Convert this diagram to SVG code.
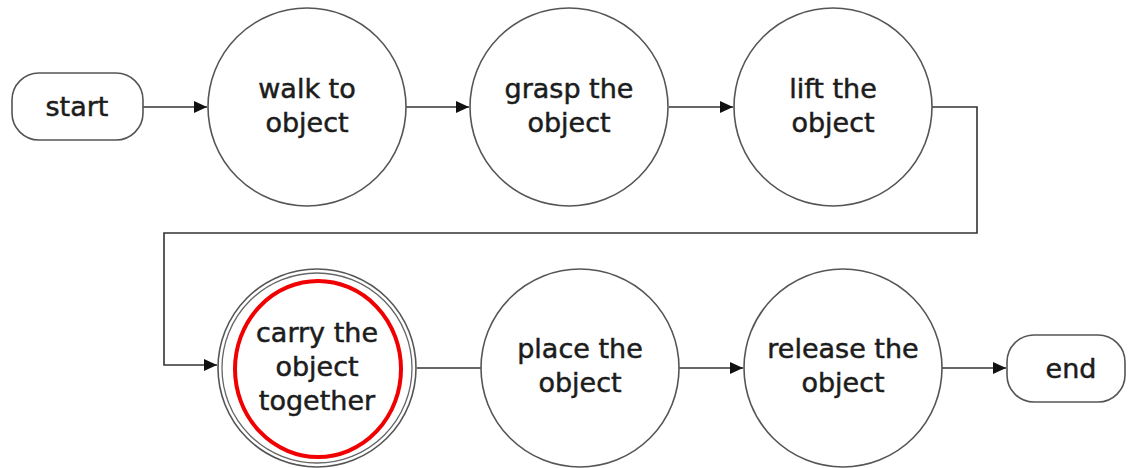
<svg xmlns="http://www.w3.org/2000/svg" width="1128" height="468" viewBox="0 0 1128 468">
  <style>
    .node { fill: #ffffff; stroke: #555555; stroke-width: 1.6; }
    .ring { fill: none; stroke: #666666; stroke-width: 1.3; }
    .label { font-family: "DejaVu Sans", sans-serif; font-size: 27px; fill: #1c1c1c; stroke: #1c1c1c; stroke-width: 0.5; text-anchor: middle; }
    .edge { fill: none; stroke: #333333; stroke-width: 1.6; }
    .mark { fill: none; stroke: #f00000; stroke-width: 4; }
  </style>
  <defs>
    <marker id="arrow" viewBox="0 0 13 12" refX="13" refY="6" markerWidth="13" markerHeight="12" markerUnits="userSpaceOnUse" orient="auto">
      <path d="M0,0 L13,6 L0,12 z" fill="#111111"/>
    </marker>
  </defs>
  <rect width="1128" height="468" fill="#ffffff"/>

  <g id="connectors">
    <line class="edge" x1="143" y1="107" x2="207" y2="107" marker-end="url(#arrow)"/>
    <line class="edge" x1="406" y1="107" x2="469" y2="107" marker-end="url(#arrow)"/>
    <line class="edge" x1="669" y1="107" x2="733" y2="107" marker-end="url(#arrow)"/>
    <polyline class="edge" points="932,107 977,107 977,233 164,233 164,365 217,365" marker-end="url(#arrow)"/>
    <line class="edge" x1="417" y1="368" x2="481" y2="368"/>
    <line class="edge" x1="679" y1="368" x2="743" y2="368" marker-end="url(#arrow)"/>
    <line class="edge" x1="942" y1="368" x2="1006" y2="368" marker-end="url(#arrow)"/>
  </g>

  <g id="start">
    <rect class="node" x="12" y="73" width="131" height="67" rx="27"/>
    <text class="label" x="77" y="116">start</text>
  </g>

  <g id="walk">
    <circle class="node" cx="307" cy="107" r="99"/>
    <text class="label" x="307" y="98">walk to</text>
    <text class="label" x="307" y="132">object</text>
  </g>

  <g id="grasp">
    <circle class="node" cx="569" cy="107" r="99"/>
    <text class="label" x="569" y="98">grasp the</text>
    <text class="label" x="569" y="132">object</text>
  </g>

  <g id="lift">
    <circle class="node" cx="833" cy="107" r="99"/>
    <text class="label" x="833" y="98">lift the</text>
    <text class="label" x="833" y="132">object</text>
  </g>

  <g id="carry">
    <circle class="node" cx="317" cy="368" r="99"/>
    <circle class="ring" cx="317" cy="368" r="95"/>
    <ellipse class="mark" cx="318" cy="369" rx="83" ry="88"/>
    <text class="label" x="317" y="342">carry the</text>
    <text class="label" x="317" y="376">object</text>
    <text class="label" x="317" y="410">together</text>
  </g>

  <g id="place">
    <circle class="node" cx="580" cy="368" r="99"/>
    <text class="label" x="580" y="358">place the</text>
    <text class="label" x="580" y="392">object</text>
  </g>

  <g id="release">
    <circle class="node" cx="843" cy="368" r="99"/>
    <text class="label" x="843" y="358">release the</text>
    <text class="label" x="843" y="392">object</text>
  </g>

  <g id="end">
    <rect class="node" x="1007" y="335" width="118" height="67" rx="27"/>
    <text class="label" x="1071" y="378">end</text>
  </g>
</svg>
